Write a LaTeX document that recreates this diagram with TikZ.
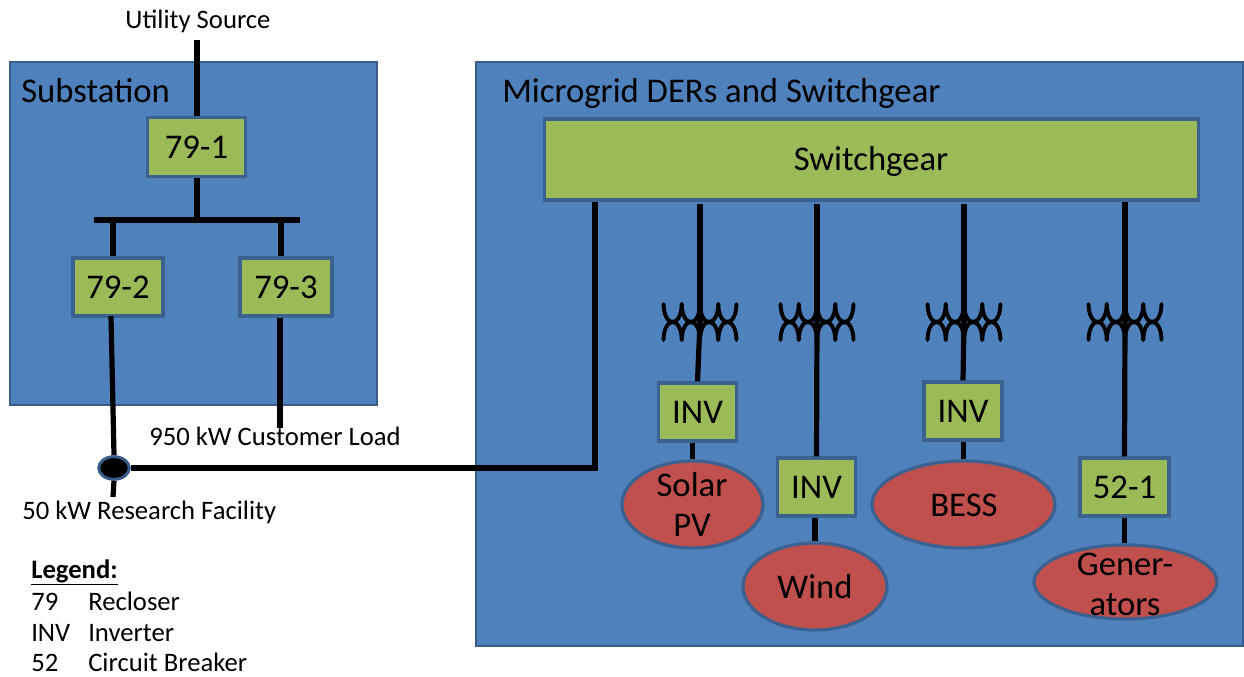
\documentclass[tikz,border=0pt]{standalone}
\usepackage{fontspec}
\setmainfont{Carlito}
\usetikzlibrary{shapes.geometric}
\definecolor{panelblue}{HTML}{4F81BD}
\definecolor{paneledge}{HTML}{385D8A}
\definecolor{boxgreen}{HTML}{9BBB59}
\definecolor{ovalred}{HTML}{C0504D}
\newcommand{\bigtext}{\fontsize{26}{30}\selectfont}
\tikzset{
  x=0.75pt,y=-0.75pt,
  panel/.style={draw=paneledge,fill=panelblue,line width=2.2pt,inner sep=0pt},
  panellabel/.style={anchor=base west,font=\bigtext,inner sep=0pt},
  greenbox/.style={draw=paneledge!90!panelblue,fill=boxgreen,line width=2.4pt,font=\bigtext,inner sep=0pt,text depth=0pt,text height=17pt},
  oval/.style={ellipse,draw=paneledge!90!panelblue,fill=ovalred,line width=2.4pt,inner sep=0pt},
  ovaltext/.style={font=\bigtext,inner sep=0pt,anchor=base},
  wire/.style={line width=3.9pt,black},
  coil/.style={line width=2.9pt,black,line cap=round},
  caption/.style={font=\fontsize{20}{24}\selectfont,inner sep=0pt},
}
\newcommand{\xfmr}[2]{%
  \begin{scope}[shift={(#1,#2)}]
    \foreach \d in {-36.5,-18.25,0,18.25}{
      \draw[coil] (\d,-18) .. controls (\d+0.5,6) and (\d+17.75,6) .. (\d+18.25,-18);
      \draw[coil] (\d,18) .. controls (\d+0.5,-6) and (\d+17.75,-6) .. (\d+18.25,18);
    }
  \end{scope}}
\begin{document}
\begin{tikzpicture}
\useasboundingbox (0,0) rectangle (1244,677);
\fill[white] (0,0) rectangle (1244,677);
% panels
\node[panel,minimum width=275.25pt,minimum height=257.25pt] (sub) at (193.5,233.5) {};
\node[panel,minimum width=575.25pt,minimum height=438pt] (mg) at (859.5,354) {};
\node[panellabel] (subl) at (21,103) {Substation};
\node[panellabel] (mgl) at (502,103) {Microgrid DERs and Switchgear};
% free ends
\coordinate (usrc) at (197,40);
\coordinate (busm) at (197,220);
\coordinate (busl) at (94,220);
\coordinate (busr) at (300,220);
\coordinate (bus2) at (113,220);
\coordinate (bus3) at (281,220);
\coordinate (loadend) at (280,428);
\coordinate (resend) at (113,497);
\coordinate (corner) at (595,468);
\coordinate (t1a) at (700,322);
\coordinate (t2a) at (817,322);
\coordinate (t3a) at (964,322);
\coordinate (t4a) at (1125,322);
\coordinate (s1) at (700,204);
\coordinate (s2) at (817,204);
\coordinate (s3) at (964,204);
\coordinate (s4) at (1125,202);
\coordinate (r2out) at (111,316);
% ovals (behind the boxes)
\node[oval,minimum width=105.75pt,minimum height=65.25pt] (pv) at (692.5,504.5) {};
\node[oval,minimum width=108pt,minimum height=65.25pt] (wind) at (815,586.5) {};
\node[oval,minimum width=137.25pt,minimum height=65.25pt] (bess) at (963.5,504.5) {};
\node[oval,minimum width=137.25pt,minimum height=55.5pt] (gen) at (1125.5,582) {};
\node[ovaltext] (pvt1) at (692,496) {Solar};
\node[ovaltext] (pvt2) at (692,536) {PV};
\node[ovaltext] (windt) at (815,598) {Wind};
\node[ovaltext] (besst) at (964,516) {BESS};
\node[ovaltext] (gent1) at (1125,575) {Gener-};
\node[ovaltext] (gent2) at (1125,615) {ators};
% boxes
\node[greenbox,minimum width=74pt,minimum height=44pt] (r1) at (196.5,147) {79-1};
\node[greenbox,minimum width=67.5pt,minimum height=43.5pt] (r2) at (118,287) {79-2};
\node[greenbox,minimum width=69pt,minimum height=43.5pt] (r3) at (286,287) {79-3};
\node[greenbox,minimum width=491pt,minimum height=60.75pt] (sw) at (871.5,159.5) {};
\node[font=\bigtext,inner sep=0pt,anchor=base] (swt) at (871,171) {Switchgear};
\node[greenbox,minimum width=59pt,minimum height=43.5pt] (i1) at (697.5,412) {INV};
\node[greenbox,minimum width=59pt,minimum height=43.5pt] (i2) at (816.5,487) {INV};
\node[greenbox,minimum width=58.5pt,minimum height=43.5pt] (i3) at (963,411) {INV};
\node[greenbox,minimum width=66.75pt,minimum height=43.5pt] (cb) at (1124.5,487) {52-1};
\node[ellipse,draw=paneledge,fill=black,line width=2.2pt,minimum width=23pt,minimum height=17pt,inner sep=0pt] (dot) at (114,468) {};
% wiring
\draw[wire] (usrc) -- (r1.north -| usrc);
\draw[wire] (r1.south -| busm) -- (busm);
\draw[wire] (busl) -- (busr);
\draw[wire] (bus2) -- (r2.north -| bus2);
\draw[wire] (bus3) -- (r3.north -| bus3);
\draw[wire] (r2out) -- (dot.north);
\draw[wire] (r3.south -| loadend) -- (loadend);
\draw[wire] (dot.south) -- (resend);
\draw[wire] (dot.east) -- (corner) -- (sw.south -| corner);
\draw[wire] (s1) -- (t1a);
\draw[wire] (s2) -- (t2a);
\draw[wire] (s3) -- (t3a);
\draw[wire] (s4) -- (t4a);
\draw[wire] (t1a) -- (i1.north);
\draw[wire] (t2a) -- (i2.north);
\draw[wire] (t3a) -- (i3.north);
\draw[wire] (t4a) -- (cb.north);
\draw[wire] (i1.south -| pv.north) -- (pv.north);
\draw[wire] (i2.south -| wind.north) -- (wind.north);
\draw[wire] (i3.south -| bess.north) -- (bess.north);
\draw[wire] (cb.south) -- (gen.north -| cb.south);
\xfmr{700}{322}
\xfmr{817}{322}
\xfmr{964}{322}
\xfmr{1125}{322}
% captions
\node[caption,anchor=base] (utl) at (198,29) {Utility Source};
\node[caption,anchor=base] (cust) at (275,445) {950 kW Customer Load};
\node[caption,anchor=base west] (res) at (22,519) {50 kW Research Facility};
\node[caption,anchor=base west] (leg) at (31,578) {\textbf{\underline{Legend:}}};
\node[caption,anchor=base west] (l1a) at (31,610) {79};
\node[caption,anchor=base west] (l1b) at (88,610) {Recloser};
\node[caption,anchor=base west] (l2a) at (31,641) {INV};
\node[caption,anchor=base west] (l2b) at (88,641) {Inverter};
\node[caption,anchor=base west] (l3a) at (31,671) {52};
\node[caption,anchor=base west] (l3b) at (88,671) {Circuit Breaker};
\end{tikzpicture}
\end{document}
